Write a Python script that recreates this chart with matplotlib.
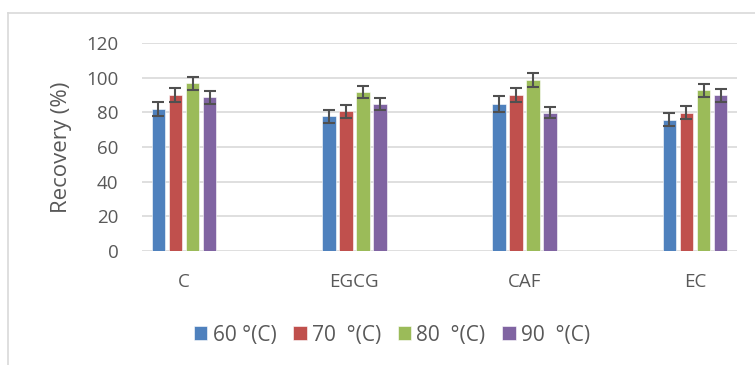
import numpy as np
import matplotlib
matplotlib.use('Agg')
import matplotlib.pyplot as plt
from matplotlib.lines import Line2D

# data
compounds = ['C', 'EGCG', 'CAF', 'EC']
series_labels = ['60 °(C)', '70  °(C)', '80  °(C)', '90  °(C)']
rec_60 = [81.7, 77.7, 84.8, 75.8]
rec_70 = [89.8, 80.6, 89.8, 79.8]
rec_80 = [96.7, 91.7, 98.7, 92.7]
rec_90 = [88.7, 84.8, 79.8, 89.8]
err_60 = [4.0, 3.8, 4.4, 3.8]
err_70 = [4.0, 3.7, 4.0, 3.7]
err_80 = [3.8, 3.7, 3.8, 3.7]
err_90 = [3.7, 3.5, 3.3, 3.8]

colors = ['#4F81BD', '#C0504D', '#9BBB59', '#8064A2']
txt = '#595959'

plt.rcParams['font.family'] = ['Open Sans', 'DejaVu Sans']

fig = plt.figure(figsize=(7.55, 3.65), dpi=100)
ax = fig.add_axes([142 / 755, 1 - 251 / 365, (737 - 142) / 755, (251 - 43) / 365])

x = np.arange(len(compounds))
w = 0.081
step = 0.1
vals = [rec_60, rec_70, rec_80, rec_90]
errs = [err_60, err_70, err_80, err_90]
for i in range(4):
    pos = x + (i - 1.5) * step
    ax.bar(pos, vals[i], width=w, color=colors[i], label=series_labels[i],
           edgecolor='white', linewidth=0.4, zorder=3)
    ax.errorbar(pos, vals[i], yerr=errs[i], fmt='none', ecolor='#505050',
                elinewidth=1.5, capsize=4, capthick=1.5, zorder=4)

ax.set_xlim(-42 / 170.3, 3 + 42 / 170.3)
ax.set_ylim(0, 120)
ax.set_yticks(range(0, 121, 20))
ax.set_xticks(x)
ax.set_xticklabels(compounds)
ax.grid(axis='y', color='#D9D9D9', linewidth=1.2, zorder=0)
ax.set_axisbelow(True)
for s in ['top', 'right', 'left', 'bottom']:
    ax.spines[s].set_visible(False)
ax.tick_params(axis='both', length=0, colors=txt, labelsize=13.5)
ax.tick_params(axis='x', pad=16)
ax.tick_params(axis='y', pad=17)
ax.set_ylabel('Recovery (%)', fontsize=16, color=txt)
ax.yaxis.set_label_coords(-0.118, 0.5)

fig.legend(loc='center', bbox_to_anchor=(392 / 755, 1 - 335 / 365), ncol=4,
           frameon=False, fontsize=15, labelcolor=txt, handlelength=0.65,
           handleheight=0.65, handletextpad=0.25, columnspacing=0.8)

# chart border (only left and top visible in the crop)
fig.add_artist(Line2D([8 / 755, 8 / 755], [0, 1 - 13 / 365], transform=fig.transFigure,
                      color='#D9D9D9', linewidth=1.2))
fig.add_artist(Line2D([8 / 755, 1], [1 - 13 / 365, 1 - 13 / 365], transform=fig.transFigure,
                      color='#D9D9D9', linewidth=1.2))

fig.savefig('out.png', dpi=100)
